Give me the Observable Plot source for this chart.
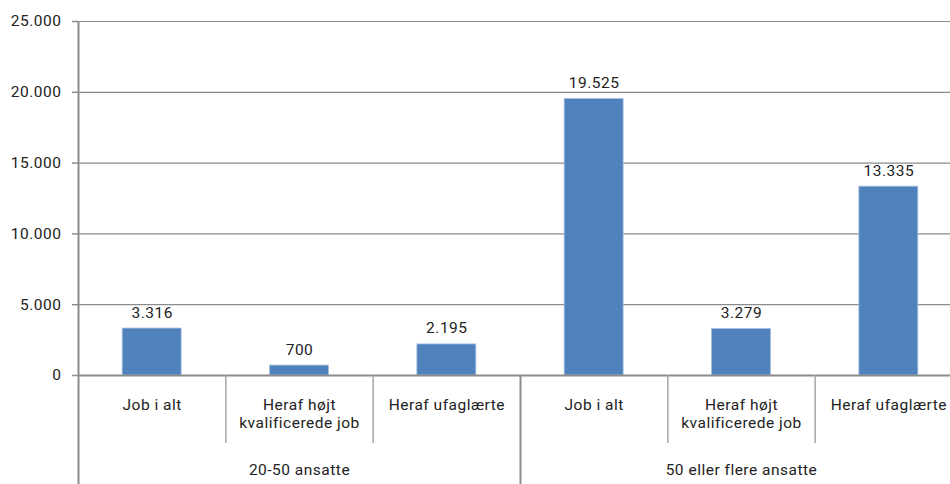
<!DOCTYPE html>
<html>
<head>
<meta charset="utf-8">
<script src="https://cdn.jsdelivr.net/npm/d3@7"></script>
<script src="https://cdn.jsdelivr.net/npm/@observablehq/plot@0.6"></script>
<style>
  html, body { margin: 0; padding: 0; background: #fff; overflow: hidden; width: 950px; height: 484px; }
</style>
</head>
<body>
<div id="chart"></div>
<script>
const groups = ["20-50 ansatte", "50 eller flere ansatte"];
const categories = ["Job i alt", "Heraf højt\nkvalificerede job", "Heraf ufaglærte"];
const values20to50 = [3316, 700, 2195];
const values50plus = [19525, 3279, 13335];
const yTicks = [0, 5000, 10000, 15000, 20000, 25000];

const fmt = d3.formatLocale({decimal: ",", thousands: ".", grouping: [3], currency: ["", " kr."]}).format(",d");

const rows = [];
[values20to50, values50plus].forEach((vals, g) => {
  vals.forEach((v, c) => rows.push({i: g * categories.length + c, group: groups[g], category: categories[c], value: v}));
});
const n = rows.length;
const catIdx = rows.map(d => d.i);
const innerSeps = [0.5, 1.5, 3.5, 4.5];
const groupSeps = [-0.5, 2.5];
const groupCenters = [1, 4];

const font = "'Roboto', 'DejaVu Sans', sans-serif";
const textColor = "#222";
const gridColor = "#8c8c8c";
const fs = 15.5;

const chart = Plot.plot({
  width: 962,
  height: 484,
  marginLeft: 78,
  marginRight: 0,
  marginTop: 21,
  marginBottom: 109,
  style: {fontFamily: font, fontSize: fs + "px", letterSpacing: "0.5px", color: textColor, maxWidth: "none", background: "#fff"},
  x: {type: "linear", domain: [-0.5, n - 0.5]},
  y: {domain: [0, 25000]},
  marks: [
    Plot.gridY(yTicks.slice(1), {stroke: gridColor, strokeOpacity: 1, strokeWidth: 1.2}),
    Plot.axisY(yTicks, {tickSize: 6, tickPadding: 11, tickFormat: fmt, label: null, stroke: gridColor, strokeWidth: 1.5, fill: textColor, fontSize: fs}),
    Plot.rectY(rows, {x1: d => d.i - 0.2, x2: d => d.i + 0.2, y: "value", fill: "#4F81BD", stroke: "#A7BFDE", strokeWidth: 0.8}),
    Plot.text(rows, {x: "i", y: "value", text: d => fmt(d.value), dy: -11, lineAnchor: "bottom", fill: textColor, fontSize: fs}),
    Plot.ruleX([-0.5], {stroke: gridColor, strokeWidth: 2}),
    Plot.ruleY([0], {stroke: gridColor, strokeWidth: 2}),
    Plot.axisX(innerSeps, {tickSize: 68, tickFormat: () => "", stroke: "#a6a6a6", strokeWidth: 1.5, label: null}),
    Plot.axisX(groupSeps, {tickSize: 109, tickFormat: () => "", stroke: gridColor, strokeWidth: 2, label: null}),
    Plot.axisX(catIdx, {tickSize: 0, tickPadding: 21, tickFormat: i => categories[i % categories.length], fill: textColor, fontSize: fs, lineHeight: 1.2, label: null}),
    Plot.axisX(groupCenters, {tickSize: 0, tickPadding: 88, tickFormat: i => groups[Math.floor(i / categories.length)], fill: textColor, fontSize: fs, label: null})
  ]
});
document.getElementById("chart").appendChild(chart);
</script>
</body>
</html>
